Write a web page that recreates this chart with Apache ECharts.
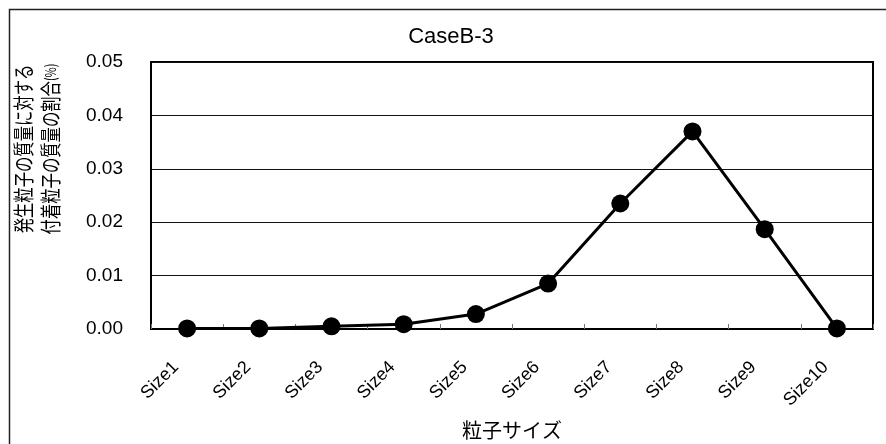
<!DOCTYPE html>
<html>
<head>
<meta charset="utf-8">
<script src="https://cdn.jsdelivr.net/npm/echarts@6/dist/echarts.min.js"></script>
<style>
  html, body { margin: 0; padding: 0; background: #fff; }
  #chart { width: 886px; height: 444px; }
</style>
</head>
<body>
<div id="chart"></div>
<script>
// Particle size classes and the adhered / generated mass ratio (%)
const categories = ['Size1', 'Size2', 'Size3', 'Size4', 'Size5', 'Size6', 'Size7', 'Size8', 'Size9', 'Size10'];
const ratioValues = [0.0001, 0.0001, 0.0005, 0.0009, 0.0028, 0.0085, 0.0235, 0.0370, 0.0187, 0.0001];
const yTicks = { min: 0, max: 0.05, interval: 0.01 };

const chartTitle = 'CaseB-3';
const xName = '粒子サイズ';
const yNameLine1 = '発生粒子の質量に対する';
const yNameLine2 = '付着粒子の質量の割合';
const yNameUnit = '(%)';

const LATIN = '"Liberation Sans", Arial, sans-serif';
const CJK = '"Noto Sans CJK JP", sans-serif';

const chart = echarts.init(document.getElementById('chart'), null, { renderer: 'canvas' });

chart.setOption({
  backgroundColor: '#ffffff',
  animation: false,
  grid: {
    left: 151, right: 13, top: 62, bottom: 115,
    outerBoundsMode: 'none', containLabel: false,
    show: true, borderColor: '#000', borderWidth: 2, backgroundColor: 'transparent'
  },
  xAxis: {
    type: 'category',
    data: categories,
    boundaryGap: true,
    name: xName,
    nameLocation: 'middle',
    nameGap: 91,
    nameTextStyle: { fontFamily: CJK, fontSize: 20, color: '#000', verticalAlign: 'top' },
    axisLine: { show: true, lineStyle: { color: '#000', width: 2 } },
    axisTick: { show: true, inside: true, length: 5, lineStyle: { color: '#777', width: 1 } },
    axisLabel: {
      rotate: 45, fontFamily: LATIN, fontSize: 18, color: '#000',
      margin: 24, padding: [0, 16, 0, 0], interval: 0
    },
    splitLine: { show: false }
  },
  yAxis: {
    type: 'value',
    min: yTicks.min, max: yTicks.max, interval: yTicks.interval,
    axisLine: { show: true, lineStyle: { color: '#000', width: 2 } },
    axisTick: { show: false },
    axisLabel: {
      fontFamily: LATIN, fontSize: 19, color: '#000', margin: 28,
      formatter: v => v.toFixed(2)
    },
    splitLine: { show: true, lineStyle: { color: '#111', width: 1 } }
  },
  series: [{
    type: 'line',
    data: ratioValues,
    symbol: 'circle',
    symbolSize: 18,
    lineStyle: { color: '#000', width: 3 },
    itemStyle: { color: '#000' },
    z: 5
  }],
  graphic: [
    // outer chart frame
    {
      type: 'rect', left: 7, top: 7, silent: true,
      shape: { x: 0, y: 0, width: 900, height: 460 },
      style: { fill: 'none', stroke: '#222', lineWidth: 1.5 }
    },
    {
      type: 'text', x: 451, y: 37, silent: true,
      style: { text: chartTitle, font: '22px ' + LATIN, fill: '#000', align: 'center', verticalAlign: 'middle' }
    },
    // two-line vertical y-axis caption, glyphs condensed along the reading direction
    {
      type: 'text', x: 23, y: 149, rotation: Math.PI / 2, scaleX: 0.73, silent: true,
      style: { text: yNameLine1, font: '21px ' + CJK, fill: '#000', align: 'center', verticalAlign: 'middle' }
    },
    {
      type: 'text', x: 50, y: 149, rotation: Math.PI / 2, scaleX: 0.73, silent: true,
      style: {
        text: '{a|' + yNameLine2 + '}{b|' + yNameUnit + '}',
        align: 'center', verticalAlign: 'middle',
        rich: {
          a: { font: '21px ' + CJK, fill: '#000' },
          b: { font: '15px ' + CJK, fill: '#000' }
        }
      }
    }
  ]
});
</script>
</body>
</html>
